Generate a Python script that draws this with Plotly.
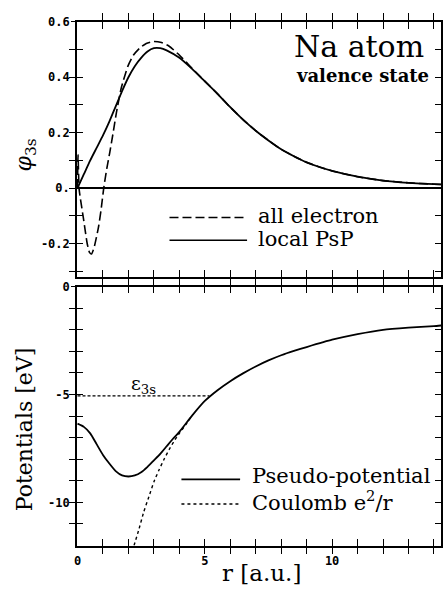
import plotly.graph_objects as go

# ---------------- data ----------------
r_psp = [0, 0.25, 0.5, 0.75, 1.0, 1.25, 1.5, 1.75, 2.0, 2.25, 2.5, 2.75, 3.0, 3.25, 3.5,
         4.0, 4.5, 5.0, 5.5, 6.0, 6.5, 7.0, 7.5, 8.0, 8.5, 9.0, 9.5, 10, 11, 12, 13, 14, 14.3]
phi_psp = [0, 0.05, 0.1, 0.145, 0.19, 0.24, 0.295, 0.35, 0.4, 0.44, 0.47, 0.493, 0.505,
           0.505, 0.497, 0.47, 0.43, 0.385, 0.34, 0.292, 0.247, 0.207, 0.172, 0.14, 0.115,
           0.093, 0.076, 0.062, 0.041, 0.027, 0.019, 0.014, 0.013]

r_ae = [0, 0.02, 0.06, 0.1, 0.2, 0.25, 0.38, 0.47, 0.55, 0.65, 0.82, 0.93, 1.03, 1.15, 1.27,
        1.4, 1.53, 1.72, 1.98, 2.2, 2.44, 2.7, 3.0, 3.3, 3.6, 4.0, 4.5, 5.0, 5.5, 6.0, 6.5,
        7.0, 7.5, 8.0, 8.5, 9.0, 9.5, 10, 11, 12, 13, 14, 14.3]
phi_ae = [0, 0.12, 0.0, -0.03, -0.09, -0.12, -0.2, -0.232, -0.238, -0.215, -0.143, -0.075, 0.0,
          0.07, 0.13, 0.2, 0.273, 0.362, 0.44, 0.48, 0.505, 0.522, 0.529, 0.525, 0.512, 0.48,
          0.432, 0.386, 0.34, 0.292, 0.247, 0.207, 0.172, 0.14, 0.115, 0.093, 0.076, 0.062,
          0.041, 0.027, 0.019, 0.014, 0.013]

r_pot = [0, 0.25, 0.5, 0.75, 1.0, 1.25, 1.5, 1.75, 2.0, 2.25, 2.5, 2.75, 3.0, 3.25, 3.5, 3.75,
         4.0, 4.5, 5.0, 5.5, 6.0, 6.5, 7.0, 7.5, 8.0, 8.5, 9, 10, 11, 12, 13, 14, 14.3]
v_pseudo = [-6.35, -6.5, -6.8, -7.3, -7.8, -8.2, -8.55, -8.75, -8.8, -8.75, -8.6, -8.35, -8.05,
            -7.75, -7.4, -7.05, -6.73, -5.98, -5.3, -4.8, -4.38, -4.02, -3.7, -3.42, -3.18,
            -2.98, -2.8, -2.46, -2.2, -2.0, -1.9, -1.83, -1.8]

r_coul = [2.22, 2.4, 2.6, 2.8, 3.0, 3.2, 3.4, 3.6, 3.8, 4.0, 4.25, 4.5]
v_coul = [-12.0, -11.3, -10.45, -9.75, -9.05, -8.5, -8.0, -7.55, -7.15, -6.8, -6.4, -5.98]

r_eps = [0, 5.18]
v_eps = [-5.06, -5.06]

x_ticks = list(range(0, 15))
x_ticktext = ["0", "", "", "", "", "5", "", "", "", "", "10", "", "", "", ""]
x_major = [5, 10]
phi_ticks = [-0.3, -0.2, -0.1, 0.0, 0.1, 0.2, 0.3, 0.4, 0.5, 0.6]
phi_ticktext = ["", "-0.2", "", "0.", "", "0.2", "", "0.4", "", "0.6"]
phi_major = [-0.2, 0.0, 0.2, 0.4, 0.6]
v_ticks = list(range(-12, 1))
v_ticktext = ["", "", "-10", "", "", "", "", "-5", "", "", "", "", "0"]
v_major = [-10, -5, 0]

# ---------------- layout helpers ----------------
W, H = 443, 590
L = 77


def px(xp):
    return (xp - L) / (W - L)


def py(yp):
    return 1 - yp / H


SERIF = "DejaVu Serif"
TICKFONT = dict(family="DejaVu Sans Mono", size=12, color="black", weight="bold")

fig = go.Figure()

fig.add_trace(go.Scatter(x=r_ae, y=phi_ae, mode="lines", xaxis="x", yaxis="y",
                         line=dict(color="black", width=1.6, dash="9px,4px", shape="spline", smoothing=0.5),
                         showlegend=False))
fig.add_trace(go.Scatter(x=r_psp, y=phi_psp, mode="lines", xaxis="x", yaxis="y",
                         line=dict(color="black", width=1.8, shape="spline", smoothing=0.5),
                         showlegend=False))
fig.add_trace(go.Scatter(x=r_eps, y=v_eps, mode="lines", xaxis="x2", yaxis="y2",
                         line=dict(color="black", width=1.3, dash="3px,2px"),
                         showlegend=False))
fig.add_trace(go.Scatter(x=r_coul, y=v_coul, mode="lines", xaxis="x2", yaxis="y2",
                         line=dict(color="black", width=1.4, dash="3px,3px", shape="spline", smoothing=0.5),
                         showlegend=False))
fig.add_trace(go.Scatter(x=r_pot, y=v_pseudo, mode="lines", xaxis="x2", yaxis="y2",
                         line=dict(color="black", width=1.8, shape="spline", smoothing=0.5),
                         showlegend=False))
# empty traces so that the overlay (tick-only) axes are built
for xa, ya in [("x3", "y"), ("x", "y3"), ("x4", "y2"), ("x2", "y4")]:
    fig.add_trace(go.Scatter(x=[], y=[], xaxis=xa, yaxis=ya, showlegend=False, hoverinfo="skip"))

xrange = [-0.02, (W - L) / 25.6 - 0.02]
top_dom = [py(273), py(15)]
bot_dom = [py(545), py(283)]
phi_range = [-0.32, 0.6]
v_range = [-12, 0]

inner_x = dict(range=xrange, showline=True, linecolor="black", linewidth=1.6,
               mirror="allticks", ticks="inside", ticklen=7, tickwidth=1.3, tickcolor="black",
               tickmode="array", tickvals=x_ticks, showgrid=False, zeroline=False)
inner_y = dict(showline=True, linecolor="black", linewidth=1.6, mirror="allticks",
               ticks="inside", ticklen=6, tickwidth=1.3, tickcolor="black", showgrid=False,
               tickmode="array", tickfont=TICKFONT, ticklabelstandoff=3)
outer = dict(showline=False, mirror="ticks", ticks="outside", ticklen=5, tickwidth=1.3,
             tickcolor="black", showgrid=False, zeroline=False, showticklabels=False,
             tickmode="array")

fig.update_layout(
    width=W, height=H,
    margin=dict(l=L, r=0, t=0, b=0),
    paper_bgcolor="white", plot_bgcolor="white",
    showlegend=False,
    xaxis=dict(domain=[0, 1], anchor="y", showticklabels=False, **inner_x),
    yaxis=dict(domain=top_dom, anchor="x", range=phi_range,
               tickvals=phi_ticks, ticktext=phi_ticktext,
               zeroline=True, zerolinecolor="black", zerolinewidth=1.6, **inner_y),
    xaxis2=dict(domain=[0, 1], anchor="y2", showticklabels=True, ticktext=x_ticktext,
                tickfont=TICKFONT, ticklabelstandoff=3, **inner_x),
    yaxis2=dict(domain=bot_dom, anchor="x2", range=v_range,
                tickvals=v_ticks, ticktext=v_ticktext, zeroline=False, **inner_y),
    # tick-only overlay axes: the outer half of the crossing major ticks
    xaxis3=dict(overlaying="x", anchor="y", range=xrange, tickvals=x_major, **outer),
    yaxis3=dict(overlaying="y", anchor="x", range=phi_range, tickvals=phi_major, **outer),
    xaxis4=dict(overlaying="x2", anchor="y2", range=xrange, tickvals=x_major, **outer),
    yaxis4=dict(overlaying="y2", anchor="x2", range=v_range, tickvals=v_major, **outer),
)

ann = []


def text(xp, yp, s, size, xanchor="left", angle=0, family=SERIF):
    ann.append(dict(x=px(xp), y=py(yp), xref="paper", yref="paper", text=s, showarrow=False,
                    xanchor=xanchor, yanchor="middle", textangle=angle,
                    font=dict(family=family, size=size, color="black")))


text(428, 40, "Na atom", 30, xanchor="right")
text(433, 69, "<b>valence state</b>", 18, xanchor="right")
text(257, 212, "all electron", 21)
text(257, 235, "local PsP", 21)
text(251, 475, "Pseudo-potential", 21)
text(251, 500, "Coulomb e<sup>2</sup>/r", 21)
text(129, 382, "ε<sub>3s</sub>", 19)
text(25, 150, "<i>φ</i><sub>3s</sub>", 22, xanchor="center", angle=-90)
text(25, 427, "Potentials [eV]", 22, xanchor="center", angle=-90)
text(263, 573, "r [a.u.]", 23, xanchor="center")

fig.update_layout(annotations=ann)

shapes = [
    dict(type="line", xref="paper", yref="paper", x0=px(170), x1=px(248), y0=py(213), y1=py(213),
         line=dict(color="black", width=1.6, dash="9px,4px")),
    dict(type="line", xref="paper", yref="paper", x0=px(170), x1=px(248), y0=py(236), y1=py(236),
         line=dict(color="black", width=1.6)),
    dict(type="line", xref="paper", yref="paper", x0=px(182), x1=px(241), y0=py(478), y1=py(478),
         line=dict(color="black", width=1.6)),
    dict(type="line", xref="paper", yref="paper", x0=px(182), x1=px(241), y0=py(503), y1=py(503),
         line=dict(color="black", width=1.4, dash="3px,3px")),
]
fig.update_layout(shapes=shapes)

fig.write_html("out.html")
